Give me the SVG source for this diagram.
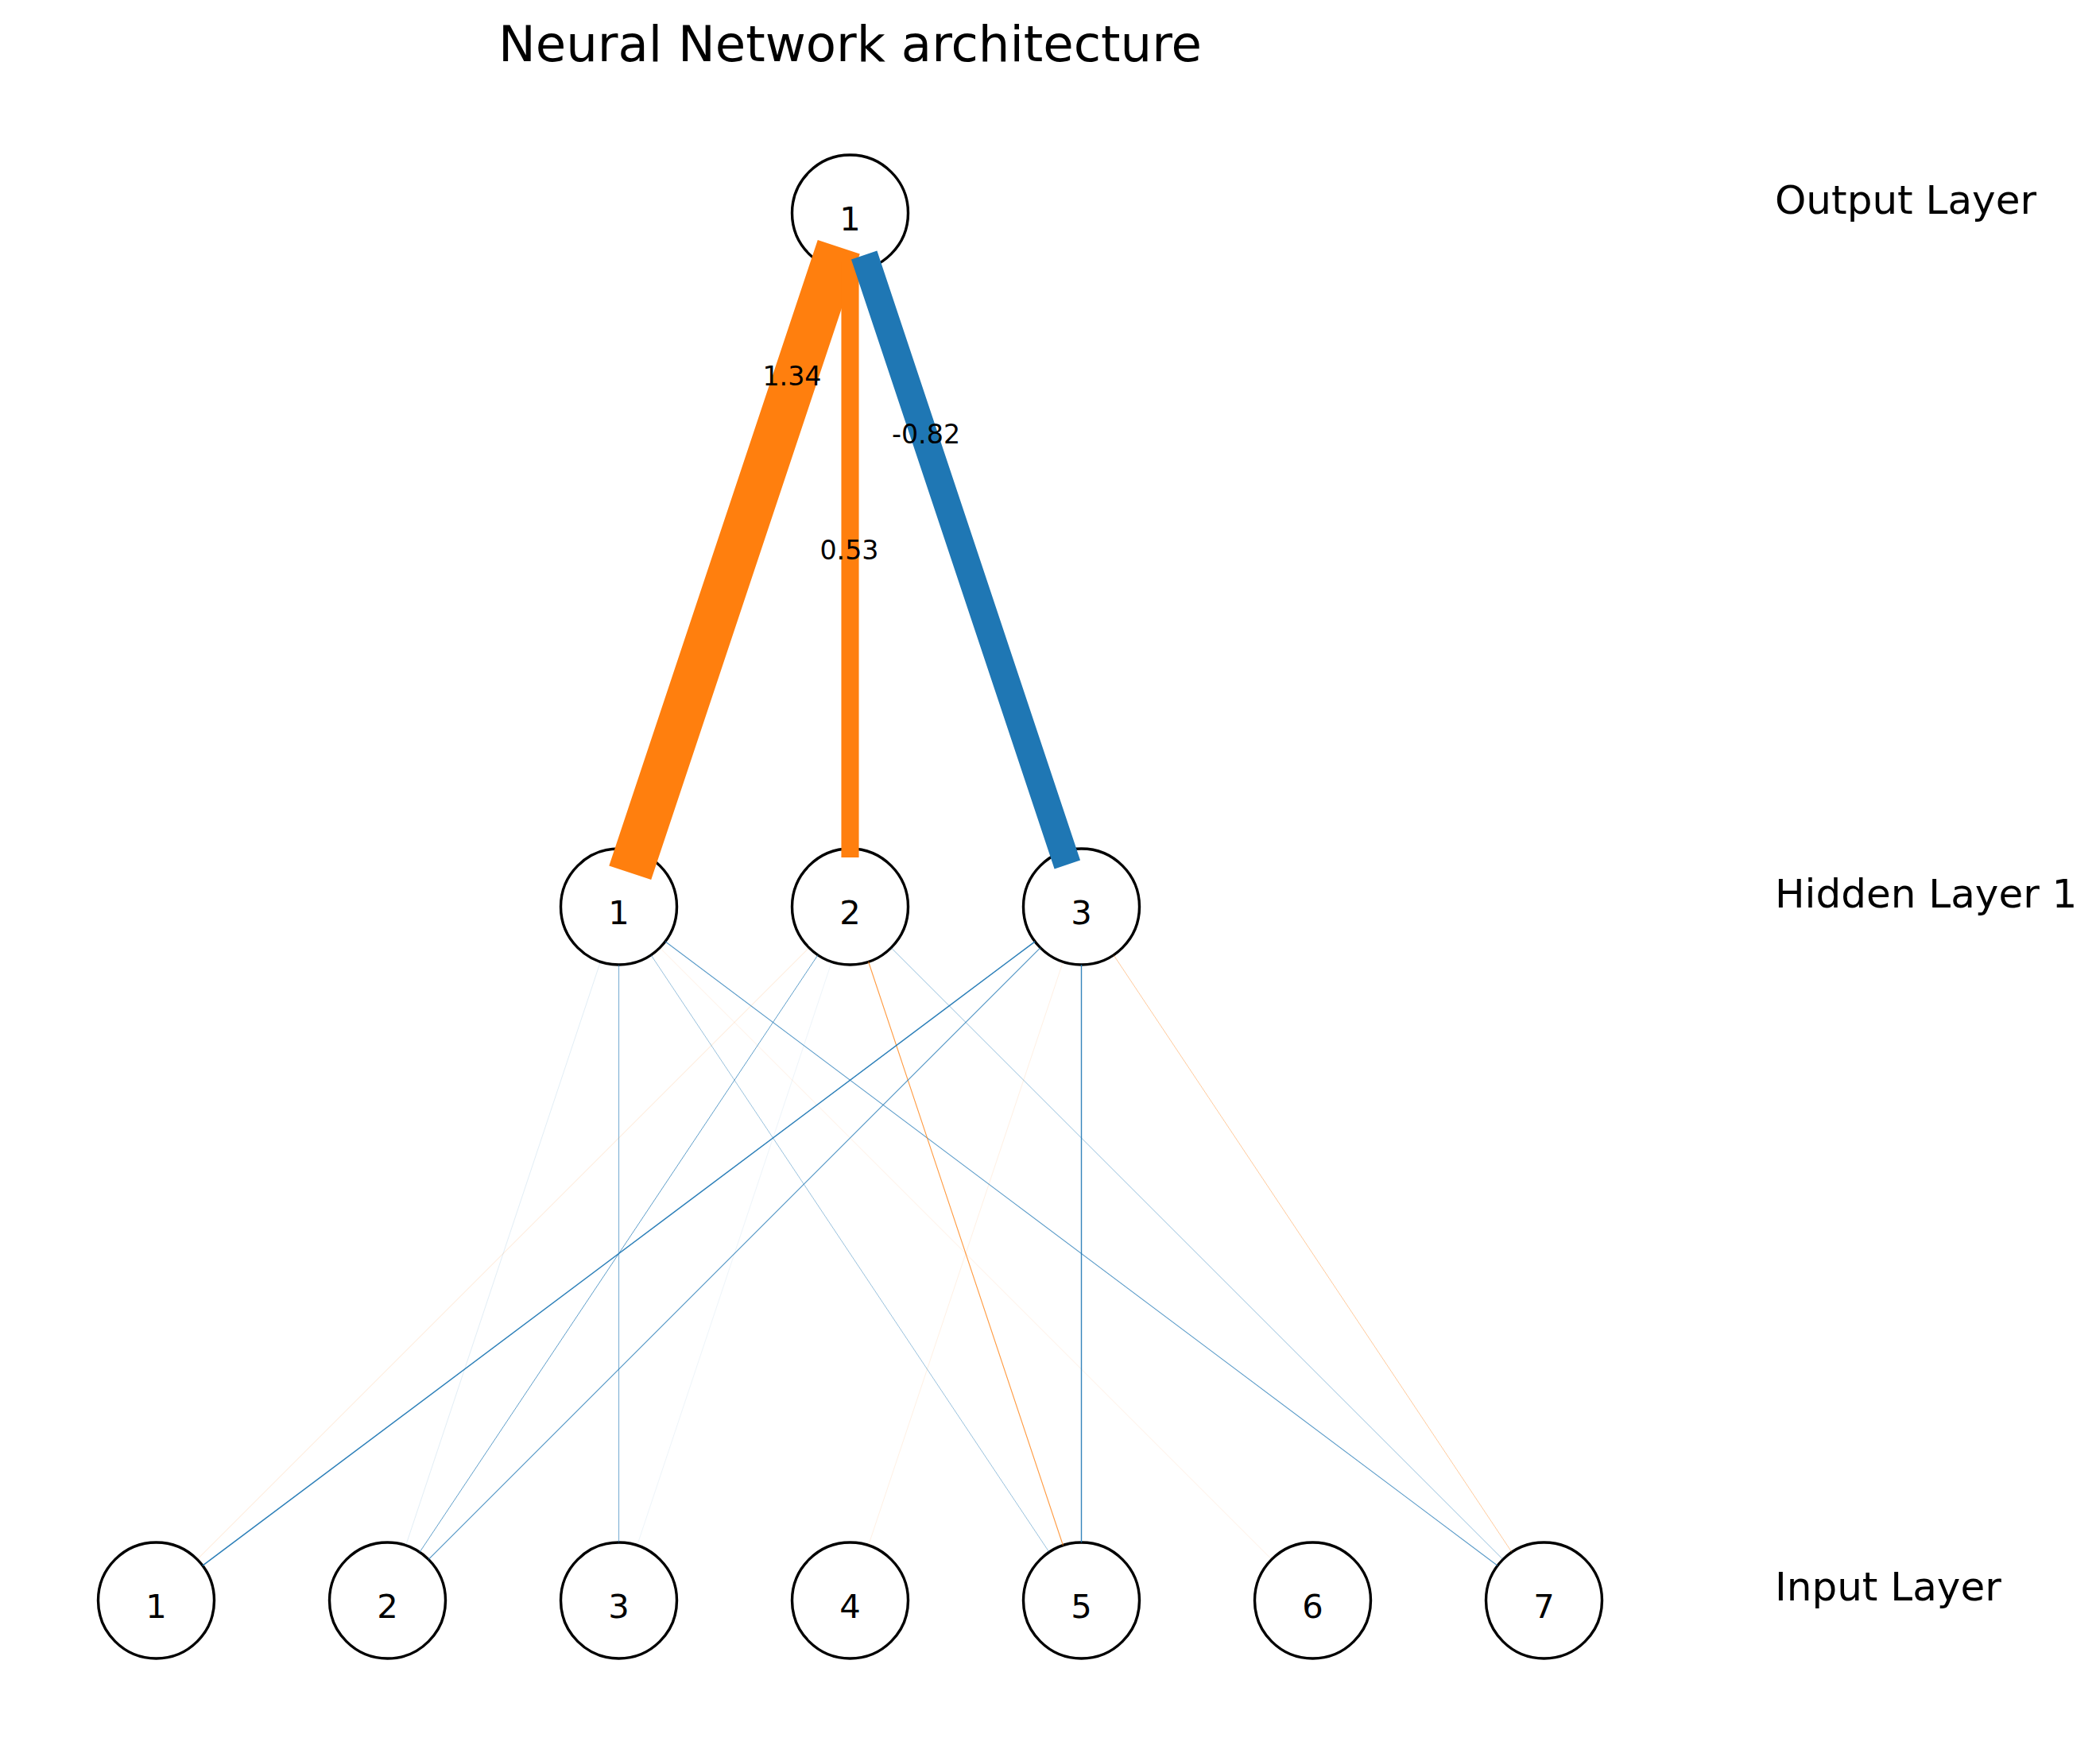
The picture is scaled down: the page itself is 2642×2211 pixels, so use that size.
<svg xmlns="http://www.w3.org/2000/svg" width="2642" height="2211" viewBox="0 0 2642 2211">
<style>
text { font-family: "DejaVu Sans", "Liberation Sans", sans-serif; fill: #000; }
.node circle { fill: #fff; stroke: #000; stroke-width: 3.4; }
.node text { font-size: 41.7px; text-anchor: middle; }
.layer { font-size: 50px; }
.title { font-size: 62.5px; text-anchor: middle; }
.wlabel { font-size: 33.3px; text-anchor: middle; }
.pos { stroke: #ff7f0e; fill: none; }
.neg { stroke: #1f77b4; fill: none; }
.thick { stroke-linecap: square; }
</style>
<rect x="0" y="0" width="2642" height="2211" fill="#fff"/>
<text class="title" x="1069.5" y="77">Neural Network architecture</text>

<g id="node-output-1" class="node"><circle cx="1069.5" cy="268" r="73"/><text x="1069.5" y="290">1</text></g>
<g id="node-hidden-1" class="node"><circle cx="778.5" cy="1141" r="73"/><text x="778.5" y="1163">1</text></g>
<g id="node-hidden-2" class="node"><circle cx="1069.5" cy="1141" r="73"/><text x="1069.5" y="1163">2</text></g>
<g id="node-hidden-3" class="node"><circle cx="1360.5" cy="1141" r="73"/><text x="1360.5" y="1163">3</text></g>
<g id="node-input-1" class="node"><circle cx="196.5" cy="2014" r="73"/><text x="196.5" y="2036">1</text></g>
<g id="node-input-2" class="node"><circle cx="487.5" cy="2014" r="73"/><text x="487.5" y="2036">2</text></g>
<g id="node-input-3" class="node"><circle cx="778.5" cy="2014" r="73"/><text x="778.5" y="2036">3</text></g>
<g id="node-input-4" class="node"><circle cx="1069.5" cy="2014" r="73"/><text x="1069.5" y="2036">4</text></g>
<g id="node-input-5" class="node"><circle cx="1360.5" cy="2014" r="73"/><text x="1360.5" y="2036">5</text></g>
<g id="node-input-6" class="node"><circle cx="1651.5" cy="2014" r="73"/><text x="1651.5" y="2036">6</text></g>
<g id="node-input-7" class="node"><circle cx="1942.5" cy="2014" r="73"/><text x="1942.5" y="2036">7</text></g>

<g id="connectors">
  <!-- hidden 1 to inputs -->
  <line class="neg" x1="755.42" y1="1210.25" x2="510.58" y2="1944.75" stroke-width="0.9" stroke-opacity="0.15"/>
  <line class="neg" x1="778.5" y1="1214" x2="778.5" y2="1941" stroke-width="1.2" stroke-opacity="0.55"/>
  <line class="neg" x1="818.99" y1="1201.74" x2="1320.01" y2="1953.26" stroke-width="0.9" stroke-opacity="0.5"/>
  <line class="pos" x1="830.12" y1="1192.62" x2="1599.88" y2="1962.38" stroke-width="0.8" stroke-opacity="0.15"/>
  <line class="neg" x1="836.9" y1="1184.8" x2="1884.1" y2="1970.2" stroke-width="1.1" stroke-opacity="0.75"/>
  <!-- hidden 2 to inputs -->
  <line class="pos" x1="1017.88" y1="1192.62" x2="248.12" y2="1962.38" stroke-width="0.9" stroke-opacity="0.22"/>
  <line class="neg" x1="1029.01" y1="1201.74" x2="527.99" y2="1953.26" stroke-width="1" stroke-opacity="0.7"/>
  <line class="neg" x1="1046.42" y1="1210.25" x2="801.58" y2="1944.75" stroke-width="0.8" stroke-opacity="0.1"/>
  <line class="pos" x1="1092.58" y1="1210.25" x2="1337.42" y2="1944.75" stroke-width="1.1" stroke-opacity="0.8"/>
  <line class="neg" x1="1121.12" y1="1192.62" x2="1890.88" y2="1962.38" stroke-width="0.9" stroke-opacity="0.55"/>
  <!-- hidden 3 to inputs -->
  <line class="neg" x1="1302.1" y1="1184.8" x2="254.9" y2="1970.2" stroke-width="1.5" stroke-opacity="0.95"/>
  <line class="neg" x1="1308.88" y1="1192.62" x2="539.12" y2="1962.38" stroke-width="1.1" stroke-opacity="0.8"/>
  <line class="pos" x1="1337.42" y1="1210.25" x2="1092.58" y2="1944.75" stroke-width="0.8" stroke-opacity="0.15"/>
  <line class="neg" x1="1360.5" y1="1214" x2="1360.5" y2="1941" stroke-width="1.4" stroke-opacity="0.9"/>
  <line class="pos" x1="1400.99" y1="1201.74" x2="1902.01" y2="1953.26" stroke-width="0.9" stroke-opacity="0.45"/>
  <!-- hidden to output -->
  <line class="pos thick" x1="1046.42" y1="337.25" x2="801.58" y2="1071.75" stroke-width="55.8"/>
  <line class="pos thick" x1="1069.5" y1="341" x2="1069.5" y2="1068" stroke-width="22.1"/>
  <line class="neg thick" x1="1092.58" y1="337.25" x2="1337.42" y2="1071.75" stroke-width="34.2"/>
</g>

<g id="weight-labels">
  <text class="wlabel" x="996.5" y="485">1.34</text>
  <text class="wlabel" x="1165" y="557.7">-0.82</text>
  <text class="wlabel" x="1068.5" y="704.3">0.53</text>
</g>

<g id="layer-labels">
  <text class="layer" x="2233" y="269">Output Layer</text>
  <text class="layer" x="2233" y="1141.7">Hidden Layer 1</text>
  <text class="layer" x="2233" y="2014">Input Layer</text>
</g>
</svg>
